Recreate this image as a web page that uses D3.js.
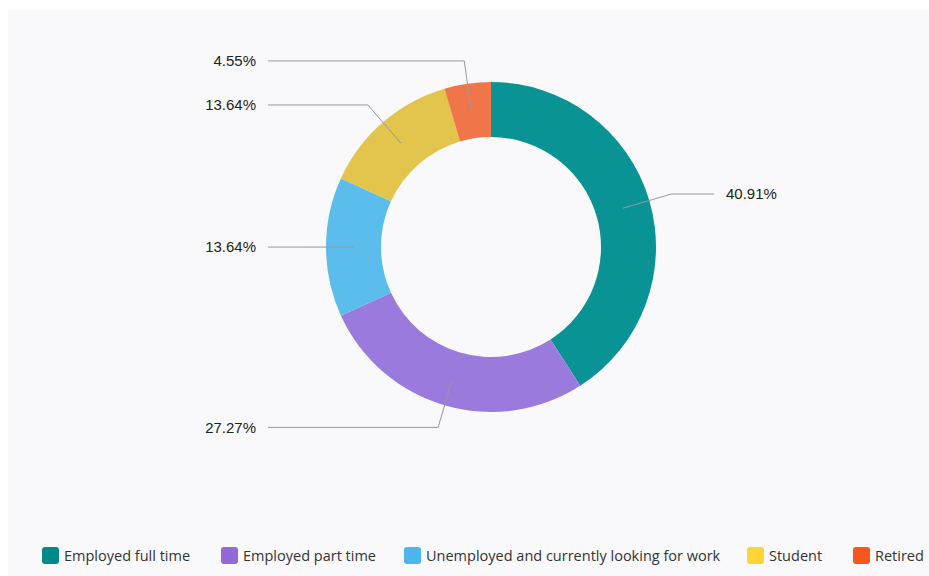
<!DOCTYPE html>
<html>
<head>
<meta charset="utf-8">
<script src="https://cdn.jsdelivr.net/npm/d3@7"></script>
<style>
  body { margin: 0; background: #fff; }
  svg { display: block; }
  .lbl { font-family: "Liberation Sans", Arial, sans-serif; font-size: 15px; fill: #222; }
  .leg { font-family: "Open Sans", sans-serif; font-size: 14.5px; fill: #333; }
</style>
</head>
<body>
<svg width="929" height="576"></svg>
<script>
'use strict';

const categories = ['Employed full time', 'Employed part time', 'Unemployed and currently looking for work', 'Student', 'Retired'];
const shares = [40.91, 27.27, 13.64, 13.64, 4.55];
const sliceColors = ['#0a9394', '#9b7ade', '#5bbdeb', '#e3c44c', '#f0764a'];
const legendColors = ['#02898a', '#9368d8', '#4cb6ec', '#fdd436', '#f9561f'];

const svg = d3.select('svg');
const width = +svg.attr('width');
const height = +svg.attr('height');

svg.append('rect')
  .attr('x', 8).attr('y', 10)
  .attr('width', width - 8).attr('height', height - 10)
  .attr('fill', '#f9f9fb');

const cx = 491, cy = 247;
const outer = 165, inner = 110, elbowR = 188;

const pie = d3.pie().sort(null).value(d => d.value);
const data = pie(categories.map((c, i) => ({ name: c, value: shares[i], i })));

const arc = d3.arc().innerRadius(inner).outerRadius(outer);
const elbowArc = d3.arc().innerRadius(elbowR).outerRadius(elbowR);

const g = svg.append('g').attr('transform', `translate(${cx},${cy})`);

g.selectAll('path.slice')
  .data(data)
  .enter().append('path')
    .attr('class', 'slice')
    .attr('d', arc)
    .attr('fill', d => sliceColors[d.data.i]);

const leftX = 268 - cx, rightX = 714 - cx;

const mid = d => (d.startAngle + d.endAngle) / 2;

g.selectAll('polyline')
  .data(data)
  .enter().append('polyline')
    .attr('fill', 'none')
    .attr('stroke', '#999')
    .attr('stroke-width', 1)
    .attr('points', d => {
      const c = arc.centroid(d);
      const e = elbowArc.centroid(d);
      const endX = mid(d) < Math.PI ? rightX : leftX;
      return [c, e, [endX, e[1]]].map(p => p.join(',')).join(' ');
    });

g.selectAll('text.lbl')
  .data(data)
  .enter().append('text')
    .attr('class', 'lbl')
    .attr('x', d => mid(d) < Math.PI ? rightX + 12 : leftX - 12)
    .attr('y', d => elbowArc.centroid(d)[1])
    .attr('dy', '0.35em')
    .attr('text-anchor', d => mid(d) < Math.PI ? 'start' : 'end')
    .text(d => d.data.value.toFixed(2) + '%');

// legend
const legendX = [42, 221, 404, 747, 853];
const leg = svg.append('g').selectAll('g')
  .data(categories)
  .enter().append('g')
    .attr('transform', (d, i) => `translate(${legendX[i]},547)`);
leg.append('rect')
  .attr('width', 17).attr('height', 17)
  .attr('rx', 3)
  .attr('fill', (d, i) => legendColors[i]);
leg.append('text')
  .attr('class', 'leg')
  .attr('x', 22)
  .attr('y', 8.5)
  .attr('dy', '0.36em')
  .text(d => d);
</script>
</body>
</html>
